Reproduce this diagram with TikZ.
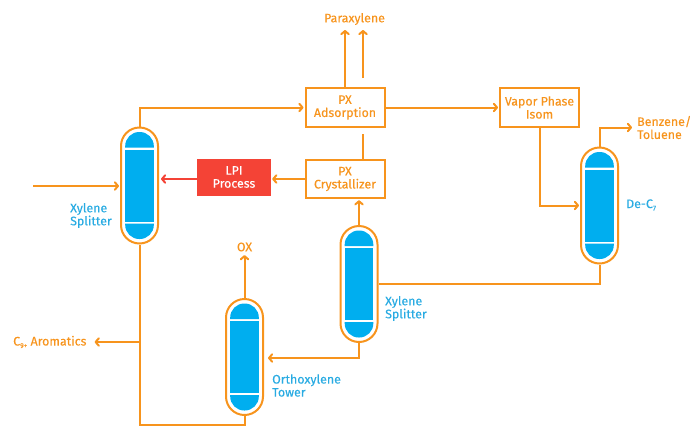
\documentclass[tikz,border=0pt]{standalone}
\usepackage{fontspec}
\setmainfont[FakeBold=0.25]{Fira Sans}
\definecolor{pipeorange}{RGB}{247,148,29}
\definecolor{towerblue}{RGB}{0,174,239}
\definecolor{labelblue}{RGB}{41,171,226}
\definecolor{lpired}{RGB}{244,67,54}
\usetikzlibrary{calc, positioning, arrows.meta}
\newcommand{\subtxt}[1]{\raisebox{-2.5pt}{\fontsize{7}{7}\selectfont #1}}

\begin{document}
\begin{tikzpicture}[
  x=1pt, y=-1pt,
  pipe/.style={draw=pipeorange, line width=2pt,
    -{Straight Barb[length=3.2pt,width=7.5pt,round]}, shorten >=1pt},
  plainpipe/.style={draw=pipeorange, line width=2pt},
  tower/.style={draw=pipeorange, line width=2pt, fill=white, rounded corners=18.5pt,
    minimum width=37pt, minimum height=116pt, inner sep=0pt,
    path picture={
      \fill[towerblue, rounded corners=14pt]
        ([xshift=4.2pt,yshift=-20pt]path picture bounding box.north west) --
        ([xshift=4.2pt,yshift=-4.5pt]path picture bounding box.north west) --
        ([xshift=-4.2pt,yshift=-4.5pt]path picture bounding box.north east) --
        ([xshift=-4.2pt,yshift=-20pt]path picture bounding box.north east);
      \fill[towerblue, sharp corners]
        ([xshift=4.2pt,yshift=-22pt]path picture bounding box.north west) rectangle
        ([xshift=-4.2pt,yshift=22pt]path picture bounding box.south east);
      \fill[towerblue, rounded corners=14pt]
        ([xshift=4.2pt,yshift=20pt]path picture bounding box.south west) --
        ([xshift=4.2pt,yshift=4.5pt]path picture bounding box.south west) --
        ([xshift=-4.2pt,yshift=4.5pt]path picture bounding box.south east) --
        ([xshift=-4.2pt,yshift=20pt]path picture bounding box.south east);
    }},
  unitbox/.style={draw=pipeorange, line width=2pt, fill=white, text=pipeorange,
    minimum width=79pt, minimum height=38.5pt, inner sep=0pt, align=center,
    font=\fontsize{12.4}{13}\selectfont},
  lpibox/.style={fill=lpired, text=white, minimum width=74pt, minimum height=37pt,
    inner sep=0pt, align=center, font=\fontsize{12.4}{13}\selectfont},
  streamlabel/.style={text=pipeorange, inner sep=0pt, align=left,
    font=\fontsize{12.4}{13}\selectfont},
  towerlabel/.style={text=labelblue, inner sep=0pt, align=left,
    font=\fontsize{12.4}{13}\selectfont},
]
  \useasboundingbox (0,0) rectangle (690,426);

  % columns
  \node[tower] (split1) at (139.5,185.5) {};
  \node[tower] (split2) at (359,284) {};
  \node[tower] (ortho) at (244.5,357) {};
  \node[tower] (dec7) at (599.5,205.5) {};

  % process boxes
  \node[unitbox] (ads) at (345,107.5) {PX\\Adsorption};
  \node[unitbox, below=31pt of ads] (cry) {PX\\Crystallizer};
  \node[unitbox] (isom) at (539.5,107.5) {Vapor Phase\\Isom};
  \node[lpibox] (lpi) at (234,177) {LPI\\Process};

  % labels
  \node[streamlabel] (px) at (354.5,19) {Paraxylene};
  \node[streamlabel] (ox) at (244.5,247) {OX};
  \node[streamlabel, anchor=west] (bz) at (637,127.5) {Benzene/\\Toluene};
  \node[streamlabel, anchor=west] (c9) at (13,342) {C\subtxt{9+} Aromatics};
  \node[towerlabel, anchor=west] (lab1) at (70,215.5) {Xylene\\Splitter};
  \node[towerlabel, anchor=west] (lab2) at (385,308.5) {Xylene\\Splitter};
  \node[towerlabel, anchor=west] (lab3) at (272,385.5) {Orthoxylene\\Tower};
  \node[towerlabel, anchor=west] (lab4) at (626,205) {De-C\subtxt{7}};

  % free ends
  \coordinate (feed) at (33,186);
  \coordinate (pxtop) at (345,29);
  \coordinate (recyc) at (363,78);
  \coordinate (stub) at (363,134);
  \coordinate (tee) at (139.5,342);
  \coordinate (botm) at (244.5,425);

  % connectors
  \draw[pipe] (feed) -- (split1.west |- feed);
  \draw[pipe] (split1.north) |- (ads.west);
  \draw[pipe] (ads.north) -- (pxtop);
  \draw[pipe] (recyc) -- (recyc |- pxtop);
  \draw[plainpipe] (stub) -- (stub |- cry.north);
  \draw[pipe] (ads.east) -- (isom.west);
  \draw[pipe] (isom.south) |- (dec7.west);
  \draw[pipe, shorten >=5pt] (dec7.north) |- (bz.west);
  \draw[plainpipe] (dec7.south) |- (split2.east);
  \draw[pipe] (split2.north) -- (split2.north |- cry.south);
  \draw[pipe] (cry.west) -- (cry.west -| lpi.east);
  \draw[pipe, draw=lpired, shorten >=2pt] (lpi.west |- cry.west) -- (split1.east |- cry.west);
  \draw[pipe] (split2.south) |- ([xshift=3pt]ortho.east |- 0,358);
  \draw[pipe, shorten >=3.5pt] (ortho.north) -- (ox.south);
  \draw[plainpipe] (split1.south) |- (botm) -- (ortho.south);
  \draw[pipe, shorten >=8pt] (tee) -- (c9.east);
\end{tikzpicture}
\end{document}
